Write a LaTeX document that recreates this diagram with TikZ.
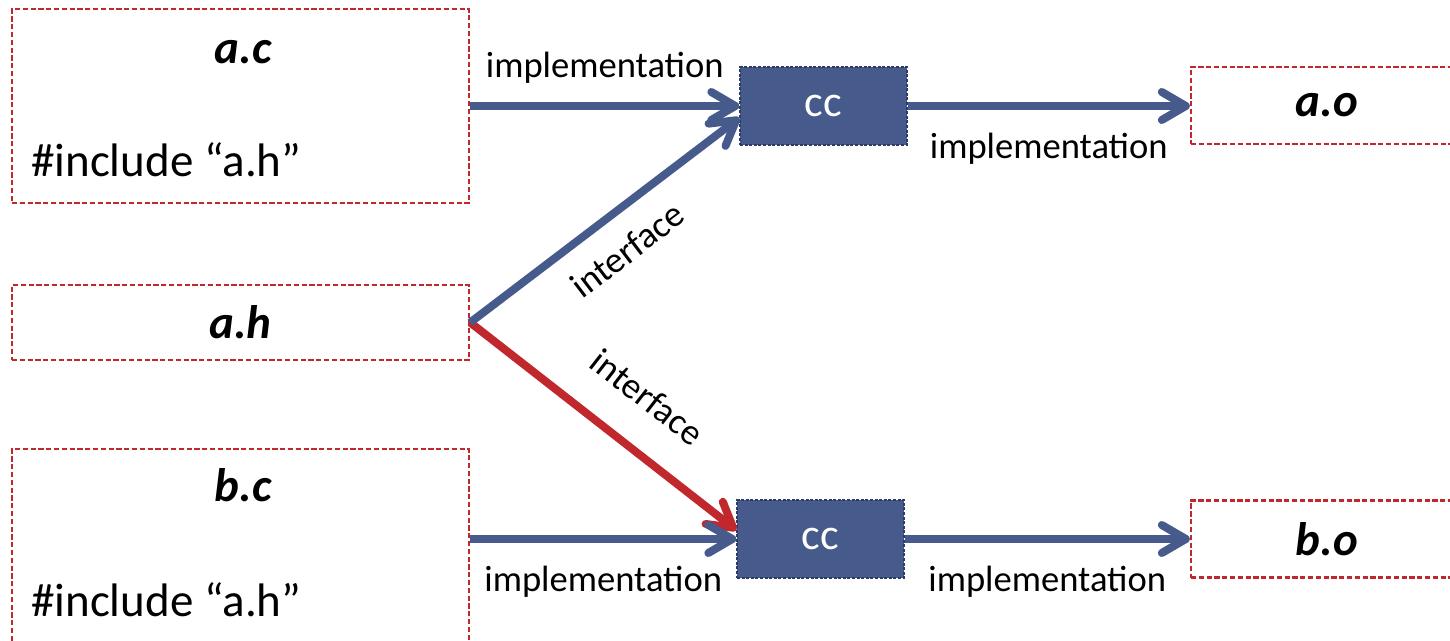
\documentclass[tikz,border=0pt]{standalone}
\usepackage{fontspec}
\setmainfont{Carlito}
\usetikzlibrary{calc,positioning,arrows.meta}
\definecolor{flowblue}{RGB}{71,90,140}
\definecolor{flowred}{RGB}{192,40,45}
\definecolor{ccborder}{RGB}{45,60,100}

\begin{document}
\begin{tikzpicture}[x=0.5pt,y=0.5pt]

\tikzset{filebox/.style={draw=flowred,line width=1.2pt,dash pattern=on 2.6pt off 1.3pt,inner sep=0pt},
srcbox/.style={filebox,minimum width=228.5pt,minimum height=97pt},
objbox/.style={filebox,minimum width=136pt,minimum height=38.5pt,font=\fontsize{23.5}{28}\selectfont\bfseries\itshape},
ccnode/.style={fill=flowblue,draw=ccborder,line width=0.7pt,dash pattern=on 1.5pt off 0.8pt,minimum width=83.5pt,minimum height=39pt,inner sep=0pt,text=white,font=\fontsize{22}{26}\selectfont},
srctitle/.style={font=\fontsize{23.5}{28}\selectfont\bfseries\itshape,anchor=base,inner sep=0pt},
incline/.style={font=\fontsize{23.5}{28}\selectfont,anchor=base west,inner sep=0pt},
flow/.style={flowblue,line width=4pt,-{Straight Barb[length=12pt,width=14pt,line cap=round,line join=round]}},
ifflow/.style={flow,flowred},
lbl/.style={font=\fontsize{18.3}{22}\selectfont,text=black}}

\useasboundingbox (0,0) rectangle (1450,-641);

% Source files
\node[srcbox] (ac) at (240.5,-106) {};
\node[srctitle] (actitle) at ($(ac.north)+(2.5,-56)$) {a.c};
\node[incline] (acincl) at ($(ac.north west)+(20,-169)$) {\#include “a.h”};

\node[srcbox,minimum height=37.5pt,font=\fontsize{23.5}{28}\selectfont\bfseries\itshape] (ah) at (240.5,-322.5) {a.h};

\node[srcbox] (bc) at (240.5,-546) {};
\node[srctitle] (bctitle) at ($(bc.north)+(2.5,-54)$) {b.c};
\node[incline] (bcincl) at ($(bc.north west)+(20,-169)$) {\#include “a.h”};

% Compilers
\node[ccnode] (cc1) at (823.5,-106) {cc};
\node[ccnode] (cc2) at (820.5,-539) {cc};

% Object files
\node[objbox] (ao) at (1327,-105.5) {a.o};
\node[objbox] (bo) at (1327,-539) {b.o};

% Edges
\draw[ifflow] (ah.east) -- (cc2.174) node[lbl,pos=.55,sloped,above=13.5pt] {interface};
\draw[flow] (ah.east) -- (cc1.188) node[lbl,midway,sloped,below=7pt] {interface};
\draw[flow] (ac.east) -- (cc1.west) node[lbl,midway,above=6pt] {implementation};
\draw[flow] (bc.east |- cc2.west) -- (cc2.west) node[lbl,midway,below=8pt] {implementation};
\draw[flow] (cc1.east) -- (cc1.east -| ao.west) node[lbl,midway,below=8pt] {implementation};
\draw[flow] (cc2.east) -- (cc2.east -| bo.west) node[lbl,midway,below=8pt] {implementation};

\end{tikzpicture}
\end{document}
